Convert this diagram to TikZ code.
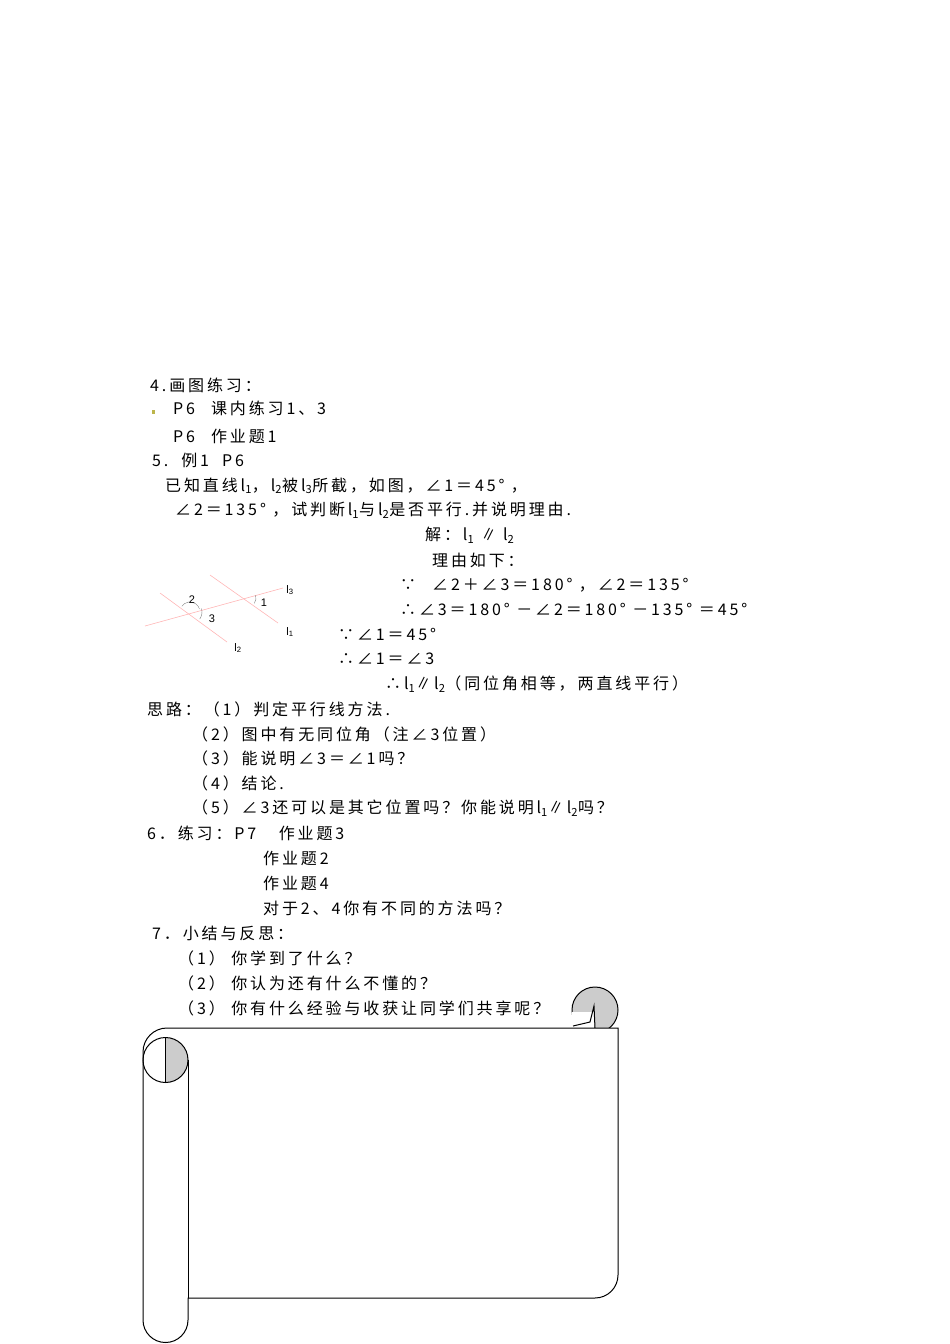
\documentclass[tikz,border=0pt]{standalone}
\usepackage{fontspec}
\setmainfont[LetterSpace=18]{Noto Sans CJK SC}
\newfontfamily\figfont{Liberation Sans}
\begin{document}
\begin{tikzpicture}[x=1pt,y=-1pt,
  t/.style={anchor=west,inner sep=0pt,font=\fontsize{16}{16}\selectfont},
  fl/.style={inner sep=0pt,font=\figfont\fontsize{11}{11}\selectfont},
  pk/.style={draw=pink!70!red!60,line width=0.6pt},
  sc/.style={draw=black,line width=1pt}]
\useasboundingbox (0,0) rectangle (950,1344);
\node[t] (a1) at (150,385) {4.画图练习：};
\fill[olive!60] (152,410) rectangle (155,414);
\node[t] (a2) at (173,408) {P6\quad 课内练习1、3};
\node[t] (a3) at (173,436) {P6\quad 作业题1};
\node[t] (a4) at (152,460) {5.\ \ 例1\ \ P6};
\node[t] (a5) at (165,486) {已知直线l\textsubscript{1}，l\textsubscript{2}被l\textsubscript{3}所截，如图，∠1＝45° ，};
\node[t] (a6) at (175,510) {∠2＝135° ，试判断l\textsubscript{1}与l\textsubscript{2}是否平行.并说明理由.};
\node[t] (a7) at (425,535) {解：l\textsubscript{1} ∥ l\textsubscript{2}};
\node[t] (a8) at (432,560) {理由如下：};
\node[t] (a9) at (400,585) {∵\quad ∠2＋∠3＝180° ，∠2＝135°};
\node[t] (a10) at (400,609) {∴∠3＝180° －∠2＝180° －135° ＝45°};
\node[t] (a11) at (338,634) {∵∠1＝45°};
\node[t] (a12) at (338,659) {∴∠1＝∠3};
\node[t] (a13) at (385,684) {∴l\textsubscript{1}∥l\textsubscript{2}（同位角相等，两直线平行）};
\node[t] (b1) at (147,709) {思路：（1）判定平行线方法.};
\node[t] (b2) at (192,734) {（2）图中有无同位角（注∠3位置）};
\node[t] (b3) at (192,758) {（3）能说明∠3＝∠1吗？};
\node[t] (b4) at (192,783) {（4）结论.};
\node[t] (b5) at (192,808) {（5）∠3还可以是其它位置吗？你能说明l\textsubscript{1}∥l\textsubscript{2}吗？};
\node[t] (c1) at (147,833) {6．练习：P7\quad\ 作业题3};
\node[t] (c2) at (263,858) {作业题2};
\node[t] (c3) at (263,883) {作业题4};
\node[t] (c4) at (263,908) {对于2、4你有不同的方法吗？};
\node[t] (d1) at (152,933) {7．小结与反思：};
\node[t] (d2) at (178,958) {（1）\ 你学到了什么？};
\node[t] (d3) at (178,983) {（2）\ 你认为还有什么不懂的？};
\node[t] (d4) at (178,1008) {（3）\ 你有什么经验与收获让同学们共享呢？};
\node[t] (d5) at (152,1039) {8．布置作业};
% figure
\draw[pk] (145,626) -- (283,588);
\draw[pk] (210,575) -- (278,623);
\draw[pk] (160,593) -- (227,642);
\draw[gray] (190,612) ++(-145:10) arc[start angle=-145,end angle=-17,radius=10];
\draw[gray] (190,612) ++(-17:12) arc[start angle=-17,end angle=36,radius=12];
\draw[gray] (247,598) ++(-17:9) arc[start angle=-17,end angle=36,radius=9];
\node[fl] (l3) at (290,590) {l\textsubscript{3}};
\node[fl] (l1) at (290,632) {l\textsubscript{1}};
\node[fl] (l2) at (238,648) {l\textsubscript{2}};
\node[fl] (n1) at (264,603) {1};
\node[fl] (n2) at (192,600) {2};
\node[fl] (n3) at (212,619) {3};
% scroll
\fill[gray!40,sc] (595,1010) circle[radius=23];
\fill[white] (572,1012) -- (594,1012) -- (594,1028) -- (572,1028) -- cycle;
\draw[sc] (573,1026) -- (590,1022) -- (594,1006) -- (595,1028);
\filldraw[fill=white,sc] (167,1028) -- (618,1028) -- (618,1275) arc[start angle=0,end angle=90,radius=23] -- (188,1298) -- (188,1320) arc[start angle=0,end angle=180,radius=22.5] -- (143,1052) arc[start angle=180,end angle=270,radius=24] -- cycle;
\fill[gray!40] (165.5,1037.5) arc[start angle=-90,end angle=90,radius=22.5] -- cycle;
\draw[sc] (165.5,1060) circle[radius=22.5];
\draw[sc] (165.5,1037.5) -- (165.5,1082.5);
\draw[sc] (188,1060) -- (188,1298);
\end{tikzpicture}
\end{document}
